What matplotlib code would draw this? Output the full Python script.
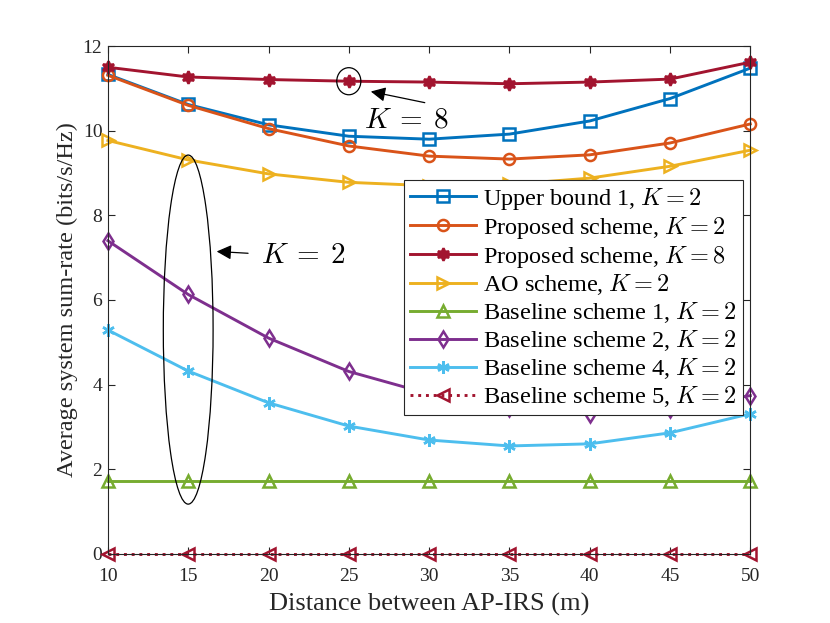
import matplotlib
matplotlib.use("Agg")
import matplotlib.pyplot as plt
from matplotlib.patches import Ellipse

plt.rcParams['font.family'] = ['Liberation Serif', 'DejaVu Serif']
plt.rcParams['mathtext.fontset'] = 'cm'

# distance between AP and IRS (m)
dist = [10, 15, 20, 25, 30, 35, 40, 45, 50]

upper1_k2 = [11.33, 10.62, 10.14, 9.87, 9.80, 9.92, 10.23, 10.76, 11.48]
prop_k2 = [11.31, 10.60, 10.05, 9.64, 9.40, 9.33, 9.43, 9.71, 10.16]
prop_k8 = [11.50, 11.27, 11.21, 11.17, 11.15, 11.11, 11.15, 11.22, 11.62]
ao_k2 = [9.77, 9.31, 8.98, 8.78, 8.70, 8.73, 8.88, 9.16, 9.54]
base1_k2 = [1.72, 1.72, 1.72, 1.72, 1.72, 1.72, 1.72, 1.72, 1.72]
base2_k2 = [7.40, 6.13, 5.10, 4.31, 3.78, 3.45, 3.31, 3.42, 3.74]
base4_k2 = [5.29, 4.32, 3.57, 3.02, 2.69, 2.55, 2.60, 2.86, 3.31]
base5_k2 = [0, 0, 0, 0, 0, 0, 0, 0, 0]

series = [
    (upper1_k2, 'Upper bound 1, $K=2$', '#0072BD', 's', '-'),
    (prop_k2, 'Proposed scheme, $K=2$', '#D95319', 'o', '-'),
    (prop_k8, 'Proposed scheme, $K=8$', '#A2142F', (6, 1, 0), '-'),
    (ao_k2, 'AO scheme, $K=2$', '#EDB120', '>', '-'),
    (base1_k2, 'Baseline scheme 1, $K=2$', '#77AC30', '^', '-'),
    (base2_k2, 'Baseline scheme 2, $K=2$', '#7E2F8E', 'd', '-'),
    (base4_k2, 'Baseline scheme 4, $K=2$', '#4DBEEE', (6, 2, 0), '-'),
    (base5_k2, 'Baseline scheme 5, $K=2$', '#A2142F', '<', ':'),
]

fig = plt.figure(figsize=(8.3, 6.23), dpi=100)
ax = fig.add_axes([0.130, 0.111, 0.774, 0.815])

for vals, lab, col, mk, ls in series:
    filled = mk in [(6, 1, 0), (6, 2, 0)]
    ax.plot(dist, vals, linestyle=ls, color=col, linewidth=2.1, marker=mk,
            markersize=9 if filled else 8,
            markerfacecolor=col if filled else 'none',
            markeredgecolor=col, markeredgewidth=1.8, label=lab,
            clip_on=False)

ax.set_xlim(10, 50)
ax.set_ylim(0, 12)
ax.set_xticks(dist)
ax.set_yticks([0, 2, 4, 6, 8, 10, 12])
ax.tick_params(direction='in', top=True, right=True, labelsize=14,
               color='#262626', labelcolor='#262626', length=5, width=0.8)
ax.tick_params(axis='x', pad=10)
ax.tick_params(axis='y', pad=4)
for s in ax.spines.values():
    s.set_color('#262626')
    s.set_linewidth(0.8)

ax.set_xlabel('Distance between AP-IRS (m)', fontsize=19, labelpad=6, color='#262626')
ax.set_ylabel('Average system sum-rate (bits/s/Hz)', fontsize=17.5, labelpad=3, color='#262626')

# annotations
ax.add_patch(Ellipse((15, 5.3), 3.1, 8.25, fill=False, edgecolor='black', linewidth=0.9, zorder=5))
ax.add_patch(Ellipse((25, 11.17), 1.5, 0.64, fill=False, edgecolor='black', linewidth=0.9, zorder=5))
ax.annotate('', xy=(26.2, 10.94), xytext=(29.9, 10.65),
            arrowprops=dict(arrowstyle='-|>', color='black', lw=0.9, mutation_scale=22))
ax.text(28.55, 10.25, '$K\\:=\\:8$', fontsize=21, ha='center', va='center')
ax.annotate('', xy=(16.6, 7.15), xytext=(18.9, 7.10),
            arrowprops=dict(arrowstyle='-|>', color='black', lw=0.9, mutation_scale=22))
ax.text(22.15, 7.05, '$K\\:=\\:2$', fontsize=21, ha='center', va='center')

leg = ax.legend(loc='upper right', bbox_to_anchor=(0.988, 0.737), fontsize=17.5,
                handlelength=2.7, labelspacing=0.12, borderpad=0.25,
                handletextpad=0.3, fancybox=False, framealpha=1, borderaxespad=0)
leg.get_frame().set_edgecolor('#262626')
leg.get_frame().set_linewidth(0.8)

fig.savefig('out.png', dpi=100)
